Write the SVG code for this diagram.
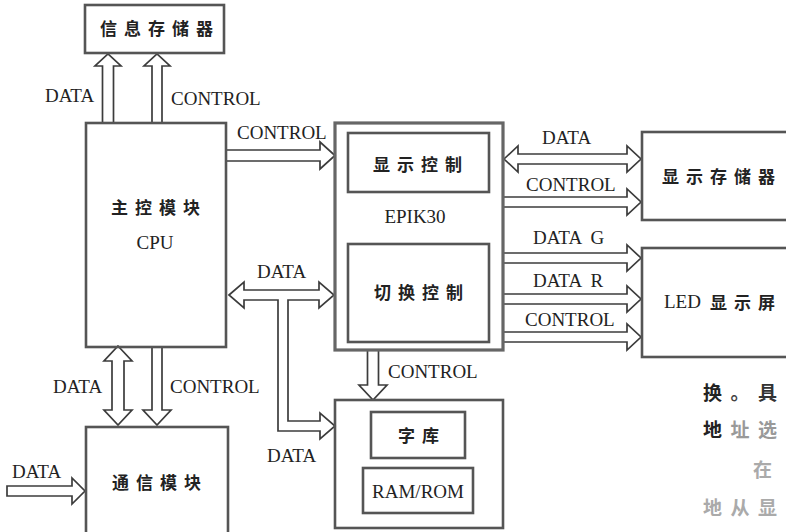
<svg xmlns="http://www.w3.org/2000/svg" width="786" height="532" viewBox="0 0 786 532">
<style>
.box{fill:none;stroke:#555;stroke-width:2.6}
.obox{fill:none;stroke:#666;stroke-width:3.2}
.arr{fill:#fff;stroke:#3c3c3c;stroke-width:1.7;stroke-linejoin:miter}
.en{font-family:'Liberation Serif','Times New Roman',Times,'Nimbus Roman','Nimbus Roman No9 L',FreeSerif,'DejaVu Serif','Noto Serif',Georgia,serif;font-size:19px;fill:#222}
.cn{font-family:'Noto Sans CJK SC','Noto Sans',sans-serif;font-size:17px;font-weight:700;fill:#222;letter-spacing:7px}
.side{font-family:'Noto Sans CJK SC','Noto Sans',sans-serif;font-size:19px;font-weight:700;letter-spacing:8.5px}
</style>
<rect width="786" height="532" fill="#fff"/>

<g id="connectors">
  <path class="arr" d="M102.5,123 V66 H95 L108,54 L121,66 H113.5 V123"/>
  <path class="arr" d="M152,123 V66 H144 L157,54 L170,66 H162 V123"/>
  <path class="arr" d="M226,150 H320 V142 L335,155.5 L320,169 V161 H226"/>
  <path class="arr" d="M229,295 L244,282 V290 H319 V282 L334,295 L319,308 V300 H288 V421 H320 V413 L335,426 L320,439 V431 H278 V300 H244 V308 Z"/>
  <path class="arr" d="M504,159 L518,146 V154 H627 V146 L641,159 L627,172 V164 H518 V172 Z"/>
  <path class="arr" d="M503,197 H627 V189 L641,202 L627,215 V207 H503"/>
  <path class="arr" d="M503,253 H627 V245 L641,258 L627,271 V263 H503"/>
  <path class="arr" d="M503,294 H627 V286 L641,299 L627,312 V304 H503"/>
  <path class="arr" d="M503,332 H627 V324 L641,337 L627,350 V342 H503"/>
  <path class="arr" d="M367.5,350 V385 H359 L373,400 L387,385 H378.5 V350"/>
  <path class="arr" d="M118,346 L132,361 H124 V410 H132 L118,425 L104,410 H112 V361 H104 Z"/>
  <path class="arr" d="M152,347 V410 H143 L157,425 L171,410 H162 V347"/>
  <path class="arr" d="M7,486 H72 V478 L85,491 L72,504 V496 H7 Z"/>
</g>

<g id="labels">
  <text class="en" x="45" y="102" font-family="Liberation Serif, serif">DATA</text>
  <text class="en" x="171" y="105">CONTROL</text>
  <text class="en" x="237" y="139">CONTROL</text>
  <text class="en" x="257" y="278">DATA</text>
  <text class="en" x="542" y="144">DATA</text>
  <text class="en" x="526" y="191">CONTROL</text>
  <text class="en" x="533" y="244" xml:space="preserve">DATA  G</text>
  <text class="en" x="533" y="287" xml:space="preserve">DATA  R</text>
  <text class="en" x="525" y="326">CONTROL</text>
  <text class="en" x="388" y="378">CONTROL</text>
  <text class="en" x="267" y="462">DATA</text>
  <text class="en" x="53" y="393">DATA</text>
  <text class="en" x="170" y="393">CONTROL</text>
  <text class="en" x="12" y="478">DATA</text>
</g>

<g id="info-memory">
  <rect class="box" x="85" y="5" width="139" height="48"/>
  <text class="cn" x="100" y="35">信息存储器</text>
</g>

<g id="cpu">
  <rect class="box" x="86" y="123" width="140" height="224"/>
  <text class="cn" x="111" y="214">主控模块</text>
  <text class="en" x="155" y="249" text-anchor="middle">CPU</text>
</g>

<g id="epik30">
  <rect class="obox" x="335" y="123" width="168" height="227"/>
  <text class="en" x="415" y="223" text-anchor="middle">EPIK30</text>
</g>

<g id="display-control">
  <rect class="box" x="348" y="133" width="141" height="59"/>
  <text class="cn" x="373" y="171">显示控制</text>
</g>

<g id="switch-control">
  <rect class="box" x="348" y="244" width="141" height="98"/>
  <text class="cn" x="374" y="299">切换控制</text>
</g>

<g id="display-memory">
  <rect class="box" x="642" y="132" width="160" height="88"/>
  <text class="cn" x="662" y="183">显示存储器</text>
</g>

<g id="led-screen">
  <rect class="box" x="642" y="248" width="160" height="109"/>
  <text class="en" x="664" y="308">LED</text>
  <text class="cn" x="710" y="308.5">显示屏</text>
</g>

<g id="comm-module">
  <rect class="box" x="86" y="427" width="142" height="110"/>
  <text class="cn" x="112" y="489">通信模块</text>
</g>

<g id="storage">
  <rect class="box" x="335" y="400" width="168" height="128"/>
</g>

<g id="font-lib">
  <rect class="box" x="371" y="412" width="94" height="46"/>
  <text class="cn" x="398" y="442">字库</text>
</g>

<g id="ram-rom">
  <rect class="box" x="363" y="468" width="110" height="45"/>
  <text class="en" x="418" y="498" text-anchor="middle">RAM/ROM</text>
</g>

<g id="side-text">
  <text class="side" x="703" y="400"><tspan fill="#222">换</tspan><tspan fill="#444">。</tspan><tspan fill="#333">具</tspan></text>
  <text class="side" x="703" y="437"><tspan fill="#222">地</tspan><tspan fill="#999">址选</tspan></text>
  <text class="side" x="753" y="477" fill="#aaa">在</text>
  <text class="side" x="703" y="515" fill="#aaa">地从显</text>
</g>
</svg>
